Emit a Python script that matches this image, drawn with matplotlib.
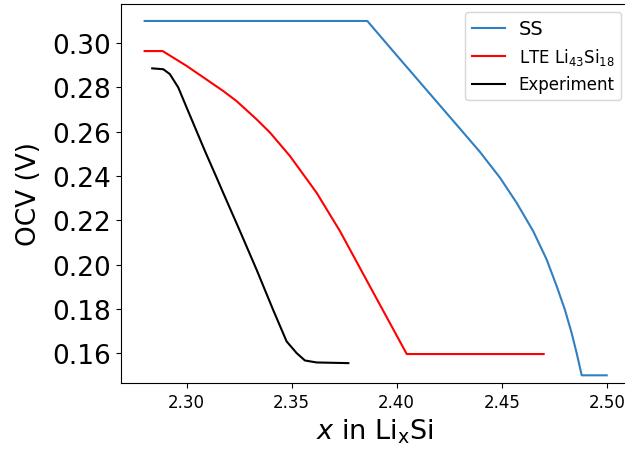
import matplotlib
matplotlib.use("Agg")
import matplotlib.pyplot as plt
import numpy as np

# SS model
ss_x = [2.280, 2.386, 2.400, 2.415, 2.4301, 2.4397, 2.4492, 2.4571, 2.4650, 2.4714,
        2.4762, 2.4801, 2.4833, 2.4857, 2.4881, 2.500]
ss_y = [0.310, 0.310, 0.2945, 0.2780, 0.2614, 0.2508, 0.2392, 0.2279, 0.2151, 0.2023,
        0.1902, 0.1796, 0.1691, 0.1600, 0.1500, 0.1500]

# LTE Li43Si18 model
lte_x = [2.280, 2.2886, 2.3000, 2.3174, 2.3238, 2.3333, 2.3397, 2.3492, 2.3619, 2.3730,
         2.3825, 2.3873, 2.4048, 2.470]
lte_y = [0.2964, 0.2964, 0.2897, 0.2784, 0.2738, 0.2656, 0.2596, 0.2490, 0.2324, 0.2151,
         0.1985, 0.1901, 0.1596, 0.1596]

# experiment
exp_x = [2.2836, 2.2889, 2.2920, 2.2960, 2.3000, 2.3040, 2.3087, 2.3143, 2.3174, 2.3254,
         2.3333, 2.3412, 2.3476, 2.3524, 2.3563, 2.3619, 2.3770]
exp_y = [0.2886, 0.2882, 0.2860, 0.2800, 0.2709, 0.2619, 0.2513, 0.2392, 0.2324, 0.2151,
         0.1977, 0.1795, 0.1653, 0.1600, 0.1567, 0.1558, 0.1555]

fig = plt.figure(figsize=(6.25, 4.6), dpi=100)
ax = fig.add_axes([0.1931, 0.1646, 0.8146, 0.8252])

ax.plot(ss_x, ss_y, color="#2f7fc1", lw=1.5, label="SS")
ax.plot(lte_x, lte_y, color="red", lw=1.5, label="LTE Li$_{43}$Si$_{18}$")
ax.plot(exp_x, exp_y, color="black", lw=1.5, label="Experiment")

ax.set_xlim(2.2686, 2.511)
ax.set_ylim(0.1464, 0.3178)
ax.set_xticks([2.30, 2.35, 2.40, 2.45, 2.50])
ax.set_yticks(np.arange(0.16, 0.301, 0.02))
ax.tick_params(axis="x", labelsize=12)
ax.tick_params(axis="y", labelsize=19)
ax.set_xlabel("$x$ in Li$_\\mathregular{x}$Si", fontsize=19.5)
ax.set_ylabel("OCV (V)", fontsize=19, labelpad=7)

leg = ax.legend(loc="upper right", fontsize=12)
leg.get_texts()[0].set_fontsize(14)

fig.savefig("out.png", dpi=100)
